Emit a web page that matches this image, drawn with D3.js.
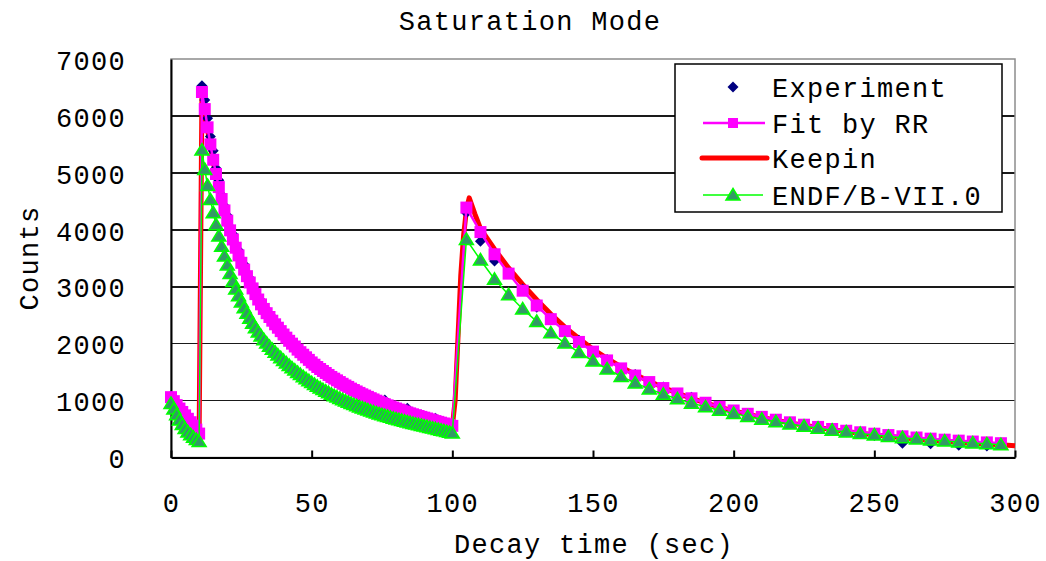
<!DOCTYPE html>
<html>
<head>
<meta charset="utf-8">
<script src="https://cdn.jsdelivr.net/npm/d3@7/dist/d3.min.js"></script>
<style>
	body { margin: 0; background: #fff; }
	svg text {
		font-family: "Liberation Mono", "DejaVu Sans Mono", monospace;
		font-size: 27px;
		letter-spacing: 1.3px;
		fill: #000;
	}
</style>
</head>
<body>
<div id="chart"></div>
<script>
// ---- data ----
var seriesNames = ["Experiment", "Fit by RR", "Keepin", "ENDF/B-VII.0"];
var xTicks = [0, 50, 100, 150, 200, 250, 300];
var yTicks = [0, 1000, 2000, 3000, 4000, 5000, 6000, 7000];

// first cycle, one point per second (0..100 s)
var timeFirst = [0, 1, 2, 3, 4, 5, 6, 7, 8, 9, 10, 11, 12, 13, 14, 15, 16, 17, 18, 19,
	20, 21, 22, 23, 24, 25, 26, 27, 28, 29, 30, 31, 32, 33, 34, 35, 36, 37, 38, 39,
	40, 41, 42, 43, 44, 45, 46, 47, 48, 49, 50, 51, 52, 53, 54, 55, 56, 57, 58, 59,
	60, 61, 62, 63, 64, 65, 66, 67, 68, 69, 70, 71, 72, 73, 74, 75, 76, 77, 78, 79,
	80, 81, 82, 83, 84, 85, 86, 87, 88, 89, 90, 91, 92, 93, 94, 95, 96, 97, 98, 99, 100];

// second cycle, one point every 5 s
var timeSecond = [105, 110, 115, 120, 125, 130, 135, 140, 145, 150, 155, 160, 165, 170,
	175, 180, 185, 190, 195, 200, 205, 210, 215, 220, 225, 230, 235, 240, 245, 250,
	255, 260, 265, 270, 275, 280, 285, 290, 295];

// Keepin curve has a finer rise and runs to 300 s
var timeKeepinSecond = [101, 102, 103, 104, 105, 106, 107, 108, 109, 110, 115, 120, 125,
	130, 135, 140, 145, 150, 155, 160, 165, 170, 175, 180, 185, 190, 195, 200, 205, 210,
	215, 220, 225, 230, 235, 240, 245, 250, 255, 260, 265, 270, 275, 280, 285, 290, 295, 300];

var expFirst = [1080, 1000, 935, 870, 790, 760, 690, 610, 575, 480, 360, 6530, 6280, 5960,
	5640, 5390, 5080, 4870, 4610, 4420, 4250, 4050, 3920, 3740, 3640, 3480, 3390, 3240,
	3150, 3010, 2940, 2830, 2760, 2640, 2600, 2500, 2470, 2370, 2340, 2250, 2210, 2120,
	2100, 2030, 1990, 1920, 1890, 1830, 1810, 1740, 1720, 1650, 1640, 1570, 1560, 1500,
	1490, 1430, 1420, 1370, 1360, 1310, 1300, 1260, 1240, 1200, 1190, 1150, 1140, 1100,
	1095, 1060, 1050, 1010, 1000, 975, 1010, 930, 915, 890, 880, 855, 850, 820, 864, 790,
	780, 755, 750, 747, 715, 700, 690, 665, 689, 640, 625, 610, 600, 580, 520];
var expSecond = [4300, 3800, 3450, 3240, 2960, 2640, 2450, 2200, 2060, 1840, 1720, 1550,
	1460, 1310, 1240, 1110, 1060, 945, 900, 810, 775, 695, 668, 600, 580, 515, 505, 452,
	440, 388, 392, 250, 345, 240, 305, 215, 275, 200, 240];

var fitFirst = [1060, 990, 920, 860, 800, 740, 680, 620, 560, 490, 420, 6420, 6120, 5800,
	5500, 5230, 4980, 4750, 4540, 4340, 4160, 3990, 3830, 3685, 3550, 3420, 3300, 3185,
	3075, 2970, 2870, 2775, 2690, 2610, 2535, 2468, 2403, 2340, 2280, 2220, 2160, 2105,
	2050, 2000, 1950, 1895, 1850, 1805, 1760, 1715, 1670, 1630, 1590, 1555, 1520, 1485,
	1450, 1415, 1385, 1355, 1325, 1295, 1265, 1240, 1210, 1185, 1160, 1135, 1110, 1088,
	1065, 1042, 1020, 998, 977, 956, 936, 916, 897, 878, 860, 842, 825, 808, 791, 775,
	759, 744, 729, 714, 700, 685, 670, 655, 640, 626, 612, 598, 584, 570, 556];
var fitSecond = [4390, 3960, 3570, 3230, 2930, 2670, 2430, 2220, 2030, 1860, 1705, 1565,
	1440, 1325, 1220, 1125, 1040, 962, 890, 826, 768, 714, 664, 618, 576, 537, 501, 470,
	443, 418, 394, 372, 351, 331, 313, 296, 280, 265, 251];

var keepinFirst = [1040, 970, 900, 840, 780, 720, 660, 600, 540, 470, 400, 6380, 6080,
	5760, 5460, 5190, 4940, 4710, 4500, 4300, 4120, 3950, 3795, 3650, 3515, 3390, 3270,
	3155, 3045, 2945, 2845, 2750, 2665, 2585, 2510, 2445, 2380, 2318, 2258, 2198, 2140,
	2085, 2030, 1980, 1930, 1877, 1832, 1787, 1743, 1698, 1655, 1615, 1575, 1540, 1505,
	1470, 1436, 1402, 1372, 1342, 1312, 1283, 1253, 1228, 1199, 1174, 1149, 1124, 1100,
	1078, 1055, 1032, 1010, 989, 968, 947, 927, 907, 889, 870, 852, 834, 817, 800, 784,
	768, 752, 737, 722, 707, 693, 678, 663, 648, 634, 620, 606, 592, 578, 564, 550];
var keepinSecond = [1000, 2100, 3200, 3900, 4350, 4560, 4420, 4280, 4150, 4020, 3660,
	3330, 3040, 2770, 2520, 2290, 2090, 1900, 1740, 1590, 1460, 1340, 1230, 1130, 1040,
	960, 885, 820, 760, 705, 655, 608, 565, 526, 490, 457, 426, 398, 372, 348, 326, 305,
	286, 268, 251, 236, 222, 205];

var endfFirst = [950, 850, 750, 660, 580, 510, 450, 400, 355, 315, 280, 5400, 5060, 4780,
	4530, 4300, 4090, 3890, 3710, 3540, 3380, 3230, 3090, 2960, 2840, 2730, 2630, 2535,
	2445, 2360, 2280, 2205, 2135, 2070, 2010, 1953, 1900, 1850, 1800, 1752, 1705, 1660,
	1616, 1575, 1535, 1495, 1457, 1420, 1385, 1350, 1316, 1283, 1251, 1222, 1193, 1165,
	1138, 1111, 1086, 1062, 1038, 1015, 992, 971, 949, 929, 909, 889, 870, 852, 834, 816,
	799, 782, 766, 750, 735, 720, 705, 691, 677, 663, 650, 637, 624, 611, 599, 587, 575,
	563, 552, 540, 528, 516, 504, 492, 480, 468, 455, 442, 430];
var endfSecond = [3830, 3470, 3130, 2860, 2610, 2390, 2190, 2010, 1845, 1695, 1555, 1425,
	1310, 1205, 1110, 1030, 955, 890, 830, 775, 722, 673, 628, 587, 549, 513, 480, 450,
	421, 395, 370, 347, 326, 306, 288, 271, 255, 240, 226];

/**
 * Draws the decay chart.
 */
function DecayChart(options)
{
	var _opts = {
		el: "#chart",
		width: 1046,
		height: 561,
		plotLeft: 171,
		plotRight: 1015,
		plotTop: 59,
		plotBottom: 457.5
	};
	for (var k in options) _opts[k] = options[k];

	// marker shapes, roughly the size of the Excel markers
	var diamondPath = "M0,-5.5L5.5,0L0,5.5L-5.5,0Z";
	var squarePath = "M-6,-6h12v12h-12Z";
	var trianglePath = "M0,-6.5L7,5L-7,5Z";

	function pairs(times, values)
	{
		return times.map(function(t, i) { return {t: t, v: values[i]}; });
	}

	function drawAxes(svg, x, y)
	{
		// horizontal gridlines
		svg.append("g").selectAll("line")
			.data(yTicks.filter(function(d) { return d > 0 && d < 7000; }))
			.join("line")
			.attr("x1", _opts.plotLeft).attr("x2", _opts.plotRight)
			.attr("y1", function(d) { return y(d); })
			.attr("y2", function(d) { return y(d); })
			.attr("stroke", "#1a1a1a").attr("stroke-width", 1.6)
			.attr("shape-rendering", "crispEdges");

		// plot area frame (grey), axes (black)
		svg.append("rect")
			.attr("x", _opts.plotLeft).attr("y", _opts.plotTop)
			.attr("width", _opts.plotRight - _opts.plotLeft)
			.attr("height", _opts.plotBottom - _opts.plotTop)
			.attr("fill", "none").attr("stroke", "#8c8c8c").attr("stroke-width", 1.5);

		var xAxis = svg.append("g")
			.attr("transform", "translate(0," + _opts.plotBottom + ")")
			.call(d3.axisBottom(x).tickValues(xTicks)
				.tickSizeInner(-7).tickSizeOuter(0).tickPadding(35)
				.tickFormat(d3.format("d")));
		xAxis.select(".domain").attr("stroke", "#000").attr("stroke-width", 2);
		xAxis.selectAll(".tick line").attr("stroke", "#000").attr("stroke-width", 2);
		xAxis.attr("font-family", null).attr("font-size", null);

		var yAxis = svg.append("g")
			.attr("transform", "translate(" + _opts.plotLeft + ",0)")
			.call(d3.axisLeft(y).tickValues(yTicks).tickSize(0).tickPadding(45)
				.tickFormat(d3.format("d")));
		yAxis.select(".domain").attr("stroke", "#000").attr("stroke-width", 2);
		yAxis.selectAll("text").attr("dy", "0.38em");
		yAxis.attr("font-family", null).attr("font-size", null);
	}

	function drawSeries(svg, x, y)
	{
		var line = d3.line()
			.x(function(d) { return x(d.t); })
			.y(function(d) { return y(d.v); });

		var expData = pairs(timeFirst, expFirst).concat(pairs(timeSecond, expSecond));
		var fitData = pairs(timeFirst, fitFirst).concat(pairs(timeSecond, fitSecond));
		var keepinData = pairs(timeFirst, keepinFirst).concat(pairs(timeKeepinSecond, keepinSecond));
		var endfData = pairs(timeFirst, endfFirst).concat(pairs(timeSecond, endfSecond));

		// Keepin: thick red line, sits under the others
		svg.append("path").datum(keepinData)
			.attr("d", line).attr("fill", "none")
			.attr("stroke", "#ff0000").attr("stroke-width", 5)
			.attr("stroke-linejoin", "round");

		// Experiment: navy diamonds only
		svg.append("g").selectAll("path").data(expData).join("path")
			.attr("d", diamondPath)
			.attr("transform", function(d) { return "translate(" + x(d.t) + "," + y(d.v) + ")"; })
			.attr("fill", "#000080");

		// Fit by RR: magenta line with squares
		svg.append("path").datum(fitData)
			.attr("d", line).attr("fill", "none")
			.attr("stroke", "#ff00ff").attr("stroke-width", 2.5);
		svg.append("g").selectAll("path").data(fitData).join("path")
			.attr("d", squarePath)
			.attr("transform", function(d) { return "translate(" + x(d.t) + "," + y(d.v) + ")"; })
			.attr("fill", "#ff00ff");

		// ENDF/B-VII.0: thin green line with triangles
		svg.append("path").datum(endfData)
			.attr("d", line).attr("fill", "none")
			.attr("stroke", "#00ff00").attr("stroke-width", 1.5);
		svg.append("g").selectAll("path").data(endfData).join("path")
			.attr("d", trianglePath)
			.attr("transform", function(d) { return "translate(" + x(d.t) + "," + y(d.v) + ")"; })
			.attr("fill", "#339966").attr("stroke", "#00ff00").attr("stroke-width", 1.5);
	}

	function drawLegend(svg)
	{
		var g = svg.append("g");
		g.append("rect")
			.attr("x", 675).attr("y", 64).attr("width", 327).attr("height", 148)
			.attr("fill", "#fff").attr("stroke", "#000").attr("stroke-width", 1.5);

		var rowY = [87, 123, 158, 195];
		var symX = 733;

		// Experiment
		g.append("path").attr("d", diamondPath)
			.attr("transform", "translate(" + symX + "," + rowY[0] + ")")
			.attr("fill", "#000080");
		// Fit by RR
		g.append("line").attr("x1", 703).attr("x2", 765)
			.attr("y1", rowY[1]).attr("y2", rowY[1])
			.attr("stroke", "#ff00ff").attr("stroke-width", 2.5);
		g.append("path").attr("d", "M-5,-5h10v10h-10Z")
			.attr("transform", "translate(" + symX + "," + rowY[1] + ")")
			.attr("fill", "#ff00ff");
		// Keepin
		g.append("line").attr("x1", 702).attr("x2", 767)
			.attr("y1", rowY[2]).attr("y2", rowY[2])
			.attr("stroke", "#ff0000").attr("stroke-width", 5).attr("stroke-linecap", "round");
		// ENDF
		g.append("line").attr("x1", 703).attr("x2", 763)
			.attr("y1", rowY[3]).attr("y2", rowY[3])
			.attr("stroke", "#00ff00").attr("stroke-width", 1.5);
		g.append("path").attr("d", trianglePath)
			.attr("transform", "translate(" + symX + "," + rowY[3] + ")")
			.attr("fill", "#339966").attr("stroke", "#00ff00").attr("stroke-width", 1.5);

		g.selectAll("text.legend").data(seriesNames).join("text")
			.attr("class", "legend")
			.attr("x", 772)
			.attr("y", function(d, i) { return rowY[i] + 9.5; })
			.text(function(d) { return d; });
	}

	function init()
	{
		var svg = d3.select(_opts.el).append("svg")
			.attr("width", _opts.width)
			.attr("height", _opts.height);

		var x = d3.scaleLinear().domain([0, 300]).range([_opts.plotLeft, _opts.plotRight]);
		var y = d3.scaleLinear().domain([0, 7000]).range([_opts.plotBottom, _opts.plotTop]);

		drawAxes(svg, x, y);
		drawSeries(svg, x, y);
		drawLegend(svg);

		// titles
		svg.append("text").attr("x", 530).attr("y", 30)
			.attr("text-anchor", "middle").text("Saturation Mode");
		svg.append("text").attr("x", 594).attr("y", 553)
			.attr("text-anchor", "middle").text("Decay time (sec)");
		svg.append("text")
			.attr("transform", "translate(38,258) rotate(-90)")
			.attr("text-anchor", "middle").text("Counts");
	}

	return {init: init};
}

DecayChart({}).init();
</script>
</body>
</html>
